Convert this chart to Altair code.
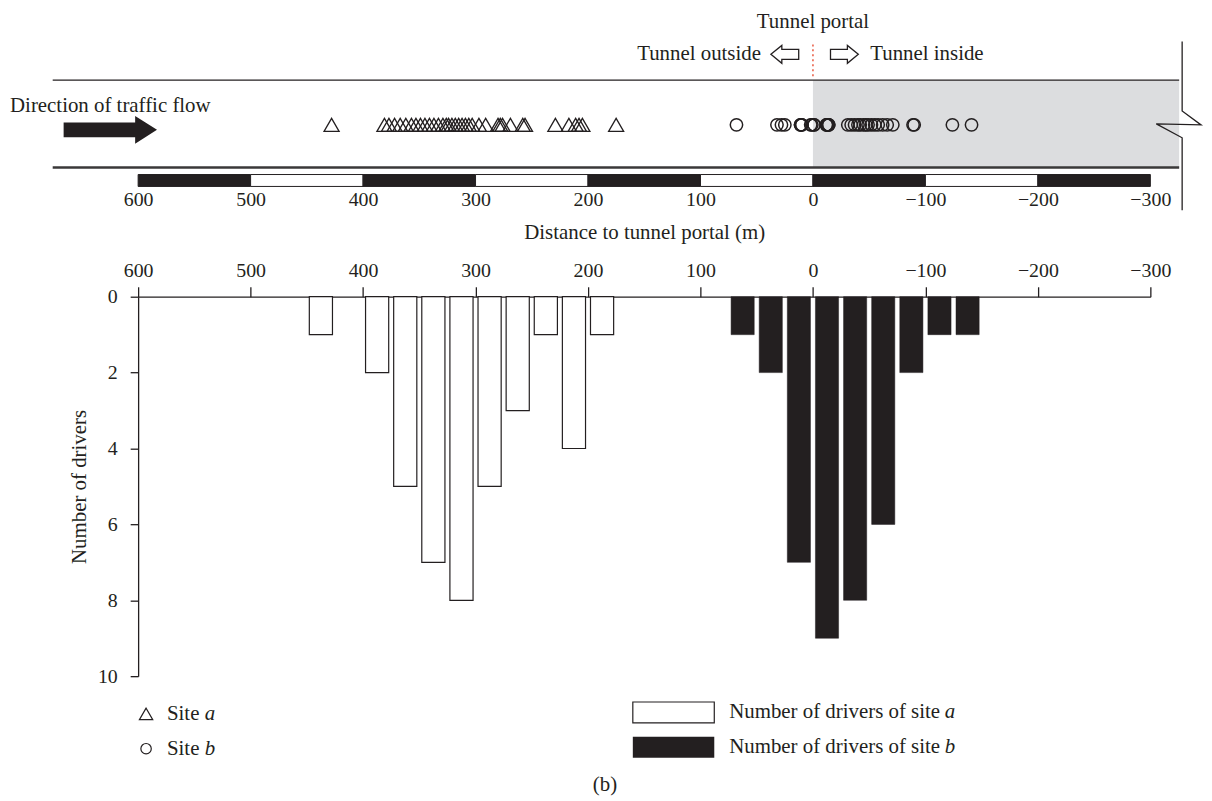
import altair as alt
import pandas as pd

# ---------------- data ----------------
# histogram bins (m) and counts
site_a_start = [450, 400, 375, 350, 325, 300, 275, 250, 225, 200]
site_a_end = [425, 375, 350, 325, 300, 275, 250, 225, 200, 175]
site_a_count = [1, 2, 5, 7, 8, 5, 3, 1, 4, 1]

site_b_start = [75, 50, 25, 0, -25, -50, -75, -100, -125]
site_b_end = [50, 25, 0, -25, -50, -75, -100, -125, -150]
site_b_count = [1, 2, 7, 9, 8, 6, 2, 1, 1]

# individual driver positions along the road (m to portal)
site_a_positions = [428, 381, 377, 372, 367, 362, 357, 353, 349, 345, 341, 337,
                    333, 329, 326, 324, 321, 318, 315, 312, 309, 306, 303, 297,
                    291, 280, 278, 276, 269, 258, 256, 229, 217, 211, 208, 205,
                    175]
site_b_positions = [68, 32, 28, 25, 11, 11, 10, 10, 2, 1, -1, -1, -12, -12,
                    -13, -13, -13, -14, -14, -31, -34, -37, -40, -42, -45, -47,
                    -49, -52, -55, -58, -62, -66, -71, -89, -90, -124, -141]

# road scale bar segments
scale_bar_start = [600, 500, 400, 300, 200, 100, 0, -100, -200]
scale_bar_end = [500, 400, 300, 200, 100, 0, -100, -200, -300]
scale_bar_shade = ["black", "white", "black", "white", "black", "white",
                   "black", "white", "black"]

distance_ticks = [600, 500, 400, 300, 200, 100, 0, -100, -200, -300]
driver_ticks = [0, 2, 4, 6, 8, 10]

# ---------------- tables ----------------
df_a = pd.DataFrame({"start": site_a_start, "end": site_a_end, "count": site_a_count})
df_b = pd.DataFrame({"start": site_b_start, "end": site_b_end, "count": site_b_count})
df_pa = pd.DataFrame({"pos": site_a_positions})
df_pb = pd.DataFrame({"pos": site_b_positions})
df_bar = pd.DataFrame({"start": scale_bar_start, "end": scale_bar_end, "shade": scale_bar_shade})
one = pd.DataFrame({"k": [0]})

FONT = "Liberation Serif"
INK = "#231f20"
W = 1019
TOP_H = 107
BOT_H = 382
FS = 21

xscale = alt.Scale(domain=[-300, 600], reverse=True, nice=False, zero=False)

top_axis = alt.Axis(values=distance_ticks, domain=False, ticks=False, grid=False,
                    labelPadding=3, labelFontSize=20, format="d", labelFlush=False,
                    title="Distance to tunnel portal (m)", titleFontSize=FS,
                    titlePadding=12)

def X(field=None, datum=None):
    if datum is not None:
        return alt.X(datum=datum, type="quantitative", scale=xscale, axis=top_axis)
    return alt.X(field, type="quantitative", scale=xscale, axis=top_axis)

# ---------------- top strip ----------------
gray = alt.Chart(one).mark_rect(color="#dcdddf").encode(
    x=X(datum=0), x2=alt.value(1048), y=alt.value(0), y2=alt.value(88))

top_line = alt.Chart(one).mark_rule(color=INK, strokeWidth=1.3).encode(
    x=alt.value(-86), x2=alt.value(1048), y=alt.value(0))
bottom_line = alt.Chart(one).mark_rule(color="#3a3839", strokeWidth=2.5).encode(
    x=alt.value(-86), x2=alt.value(1048), y=alt.value(88))

scale_bar = alt.Chart(df_bar).mark_rect(stroke=INK, strokeWidth=1).encode(
    x=X("start"), x2="end:Q", y=alt.value(95), y2=alt.value(107),
    fill=alt.Fill("shade:N", scale=alt.Scale(domain=["black", "white"], range=[INK, "white"]),
                  legend=None))

tri = alt.Chart(df_pa).mark_point(shape="triangle-up", filled=False, size=230,
                                  color=INK, strokeWidth=1.3, opacity=1).encode(
    x=X("pos"), y=alt.value(45))
circ = alt.Chart(df_pb).mark_point(shape="circle", filled=False, size=155,
                                   color=INK, strokeWidth=1.5, opacity=1).encode(
    x=X("pos"), y=alt.value(45))

portal_line = alt.Chart(one).mark_rule(color="#e8553d", strokeDash=[2, 3], strokeWidth=1.5).encode(
    x=X(datum=0), y=alt.value(-36), y2=alt.value(-3))

def label(text, x, y, align="left", italic=False, size=FS):
    kw = dict(text=text, font=FONT, fontSize=size, color=INK, align=align, baseline="middle")
    if italic:
        kw["fontStyle"] = "italic"
    return alt.Chart(one).mark_text(**kw).encode(x=x, y=alt.value(y))

portal_txt = label("Tunnel portal", X(datum=0), -59, align="center")
outside_txt = label("Tunnel outside", alt.value(627), -26, align="right")
inside_txt = label("Tunnel inside", alt.value(737), -26, align="left")
flow_txt = label("Direction of traffic flow", alt.value(-28), 26, align="center")

left_arrow = "M-14,0L-3,-9L-3,-5L14,-5L14,5L-3,5L-3,9Z"
right_arrow = "M14,0L3,-9L3,-5L-14,-5L-14,5L3,5L3,9Z"
big_arrow = "M-47,-7.5L25,-7.5L25,-14L47,0L25,14L25,7.5L-47,7.5Z"
break_mark = "M0,-85L0,-15L19,-1L-26,-2L0,12L0,85"

def glyph(path, x, y, filled):
    if filled:
        m = alt.Chart(one).mark_point(shape=path, size=4, filled=True, fill=INK,
                                      strokeWidth=0, opacity=1)
    else:
        m = alt.Chart(one).mark_point(shape=path, size=4, filled=False, stroke=INK,
                                      strokeWidth=1.3, opacity=1)
    return m.encode(x=alt.value(x), y=alt.value(y))

arr_l = glyph(left_arrow, 651, -26, False)
arr_r = glyph(right_arrow, 711, -26, False)
arr_big = glyph(big_arrow, -28, 50, True)
brk = glyph(break_mark, 1051, 46, False)

top = alt.layer(gray, top_line, bottom_line, scale_bar, tri, circ, portal_line,
                portal_txt, outside_txt, inside_txt, flow_txt, arr_l, arr_r,
                arr_big, brk).properties(width=W, height=TOP_H)

# ---------------- histogram ----------------
bx_axis = alt.Axis(orient="top", values=distance_ticks, tickSize=10, labelFontSize=20,
                   labelPadding=6, title=None, grid=False, format="d", labelFlush=False,
                   domainColor=INK, tickColor=INK, domainWidth=1.3, tickWidth=1.3)
yscale = alt.Scale(domain=[0, 10], reverse=True, nice=False)
y_axis = alt.Axis(values=driver_ticks, tickSize=8, labelPadding=13, labelFontSize=20,
                  title="Number of drivers", titleFontSize=FS, titlePadding=8,
                  grid=False, domainColor=INK, tickColor=INK, domainWidth=1.3, tickWidth=1.3)

bars_a = alt.Chart(df_a).mark_rect(fill="white", stroke=INK, strokeWidth=1.2,
                                   xOffset=2.5, x2Offset=-2.5).encode(
    x=alt.X("start:Q", scale=xscale, axis=bx_axis), x2="end:Q",
    y=alt.Y("count:Q", scale=yscale, axis=y_axis), y2=alt.Y2(datum=0))
bars_b = alt.Chart(df_b).mark_rect(fill=INK, stroke=INK, strokeWidth=0.5,
                                   xOffset=2.5, x2Offset=-2.5).encode(
    x=alt.X("start:Q", scale=xscale, axis=bx_axis), x2="end:Q",
    y=alt.Y("count:Q", scale=yscale, axis=y_axis), y2=alt.Y2(datum=0))

leg_tri = alt.Chart(one).mark_point(shape="triangle-up", filled=False, size=180, color=INK,
                                    strokeWidth=1.2, opacity=1).encode(x=alt.value(8), y=alt.value(420))
leg_circ = alt.Chart(one).mark_point(shape="circle", filled=False, size=110, color=INK,
                                     strokeWidth=1.2, opacity=1).encode(x=alt.value(8), y=alt.value(455))
leg_ta1 = label("Site ", alt.value(29), 420)
leg_ta2 = label("a", alt.value(67), 420, italic=True)
leg_tb1 = label("Site ", alt.value(29), 455)
leg_tb2 = label("b", alt.value(67), 455, italic=True)

box_a = alt.Chart(one).mark_rect(fill="white", stroke=INK, strokeWidth=1.2).encode(
    x=alt.value(498), x2=alt.value(580), y=alt.value(408), y2=alt.value(429))
box_b = alt.Chart(one).mark_rect(fill=INK).encode(
    x=alt.value(498), x2=alt.value(580), y=alt.value(443), y2=alt.value(464))
leg_na1 = label("Number of drivers of site ", alt.value(595), 418)
leg_na2 = label("a", alt.value(812), 418, italic=True)
leg_nb1 = label("Number of drivers of site ", alt.value(595), 453)
leg_nb2 = label("b", alt.value(812), 453, italic=True)
caption = label("(b)", alt.value(470), 492, align="center")

bottom = alt.layer(bars_a, bars_b, leg_tri, leg_circ, leg_ta1, leg_ta2, leg_tb1, leg_tb2,
                   box_a, box_b, leg_na1, leg_na2, leg_nb1, leg_nb2, caption
                   ).properties(width=W, height=BOT_H)

chart = alt.vconcat(top, bottom, spacing=111, bounds="flush").properties(
    padding={"top": 0, "left": 2, "right": 0, "bottom": 0}
).configure(font=FONT).configure_view(stroke=None).configure_axis(
    labelFont=FONT, titleFont=FONT, labelColor=INK, titleColor=INK,
    titleFontWeight="normal")

chart.save("out.html", embed_options={"renderer": "svg", "actions": False})
